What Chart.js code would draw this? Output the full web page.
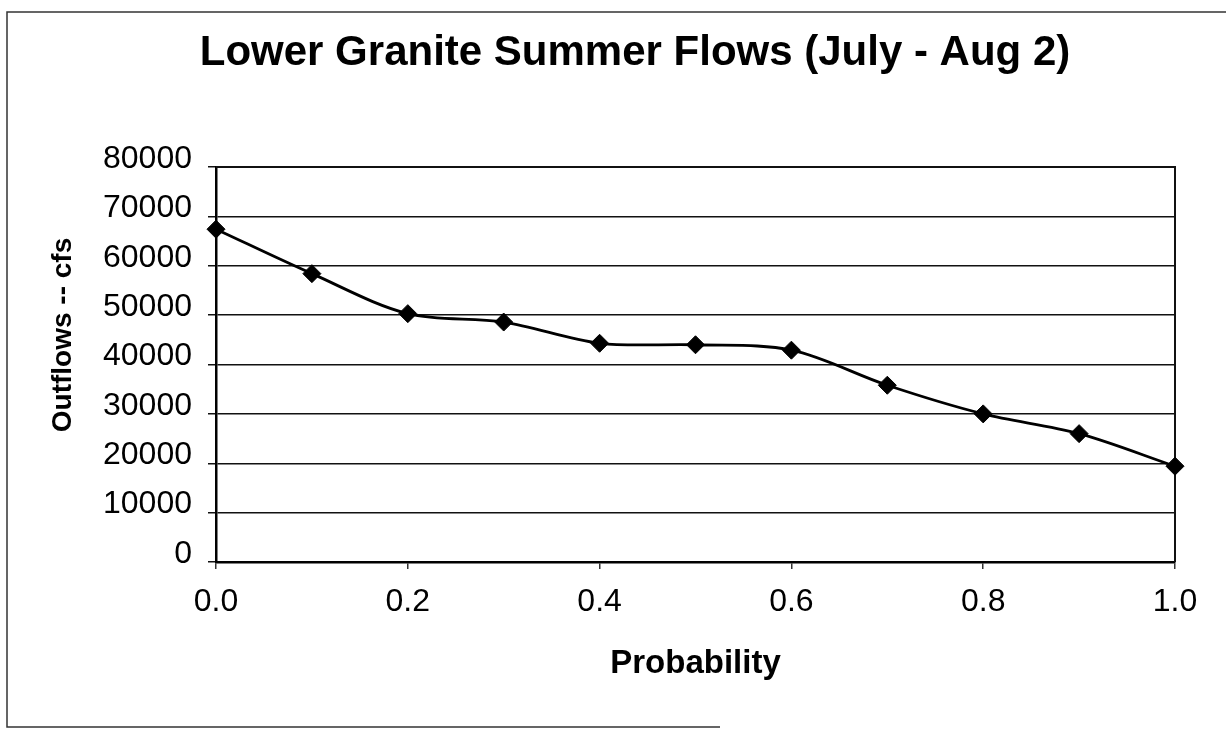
<!DOCTYPE html>
<html>
<head>
<meta charset="utf-8">
<title>Lower Granite Summer Flows</title>
<script src="https://cdn.jsdelivr.net/npm/chart.js@4.4.1/dist/chart.umd.min.js"></script>
<style>
  body { margin: 0; background: #fff; }
  canvas { display: block; }
</style>
</head>
<body>
<canvas id="flowChart" width="1226" height="732"></canvas>
<script>
const probability = [0.0, 0.1, 0.2, 0.3, 0.4, 0.5, 0.6, 0.7, 0.8, 0.9, 1.0];
const outflows = [67400, 58400, 50300, 48600, 44300, 44000, 42900, 35800, 30000, 26000, 19400];
const chartTitle = 'Lower Granite Summer Flows (July - Aug 2)';
const xTitle = 'Probability';
const yTitle = 'Outflows -- cfs';

const fontFamily = "'Liberation Sans', Arial, sans-serif";

// page frame, plot box and the rotated y title
const decorations = {
    id: 'decorations',
    beforeDraw(chart) {
        const ctx = chart.ctx;
        ctx.save();
        ctx.strokeStyle = '#333';
        ctx.lineWidth = 1.5;
        ctx.beginPath();
        ctx.moveTo(1226, 12);
        ctx.lineTo(7, 12);
        ctx.lineTo(7, 727);
        ctx.lineTo(720, 727);
        ctx.stroke();
        ctx.restore();
    },
    beforeDatasetsDraw(chart) {
        const { ctx, chartArea } = chart;
        ctx.save();
        ctx.strokeStyle = '#111';
        ctx.lineWidth = 2;
        ctx.beginPath();
        ctx.moveTo(chartArea.left, chartArea.top);
        ctx.lineTo(chartArea.right, chartArea.top);
        ctx.lineTo(chartArea.right, chartArea.bottom);
        ctx.stroke();
        ctx.restore();
    },
    afterDraw(chart) {
        const ctx = chart.ctx;
        ctx.save();
        ctx.translate(63, 335);
        ctx.rotate(-Math.PI / 2);
        ctx.font = 'bold 28px ' + fontFamily;
        ctx.fillStyle = '#000';
        ctx.textAlign = 'center';
        ctx.textBaseline = 'middle';
        ctx.fillText(yTitle, 0, 0);
        ctx.restore();
    }
};

const ctx = document.getElementById('flowChart').getContext('2d');
const chart = new Chart(ctx, {
    type: 'line',
    data: {
        datasets: [{
            label: yTitle,
            data: probability.map((p, i) => ({ x: p, y: outflows[i] })),
            borderColor: '#000',
            backgroundColor: '#000',
            borderWidth: 2.8,
            tension: 0.33,
            pointStyle: 'rectRot',
            pointRadius: 9,
            pointBorderWidth: 1,
            pointBackgroundColor: '#000',
            pointBorderColor: '#000',
            clip: false,
            fill: false
        }]
    },
    options: {
        responsive: false,
        animation: false,
        layout: {
            padding: { left: 95, right: 51, top: 0, bottom: 0 }
        },
        plugins: {
            legend: { display: false },
            tooltip: { enabled: false },
            title: {
                display: true,
                text: chartTitle,
                color: '#000',
                font: { family: fontFamily, size: 42, weight: 'bold' },
                padding: { top: 28, bottom: 88.6 }
            }
        },
        scales: {
            x: {
                type: 'linear',
                min: 0,
                max: 1,
                afterFit(scale) { scale.height = 170; },
                ticks: {
                    stepSize: 0.2,
                    padding: 14,
                    color: '#000',
                    font: { family: fontFamily, size: 32 },
                    callback: v => v.toFixed(1)
                },
                grid: {
                    drawOnChartArea: false,
                    drawTicks: true,
                    tickLength: 7,
                    color: '#333',
                    lineWidth: 1.5
                },
                border: { display: true, color: '#000', width: 2.5 },
                title: {
                    display: true,
                    text: xTitle,
                    color: '#000',
                    font: { family: fontFamily, size: 33, weight: 'bold' },
                    padding: { top: 0, bottom: 48.6 }
                }
            },
            y: {
                min: 0,
                max: 80000,
                afterFit(scale) { scale.width = 121; },
                ticks: {
                    stepSize: 10000,
                    padding: 16,
                    labelOffset: -8,
                    color: '#000',
                    font: { family: fontFamily, size: 32 },
                    callback: v => String(v)
                },
                grid: {
                    color: '#111',
                    lineWidth: 1.5,
                    tickLength: 8
                },
                border: { display: true, color: '#000', width: 2.5 }
            }
        }
    },
    plugins: [decorations]
});
</script>
</body>
</html>
